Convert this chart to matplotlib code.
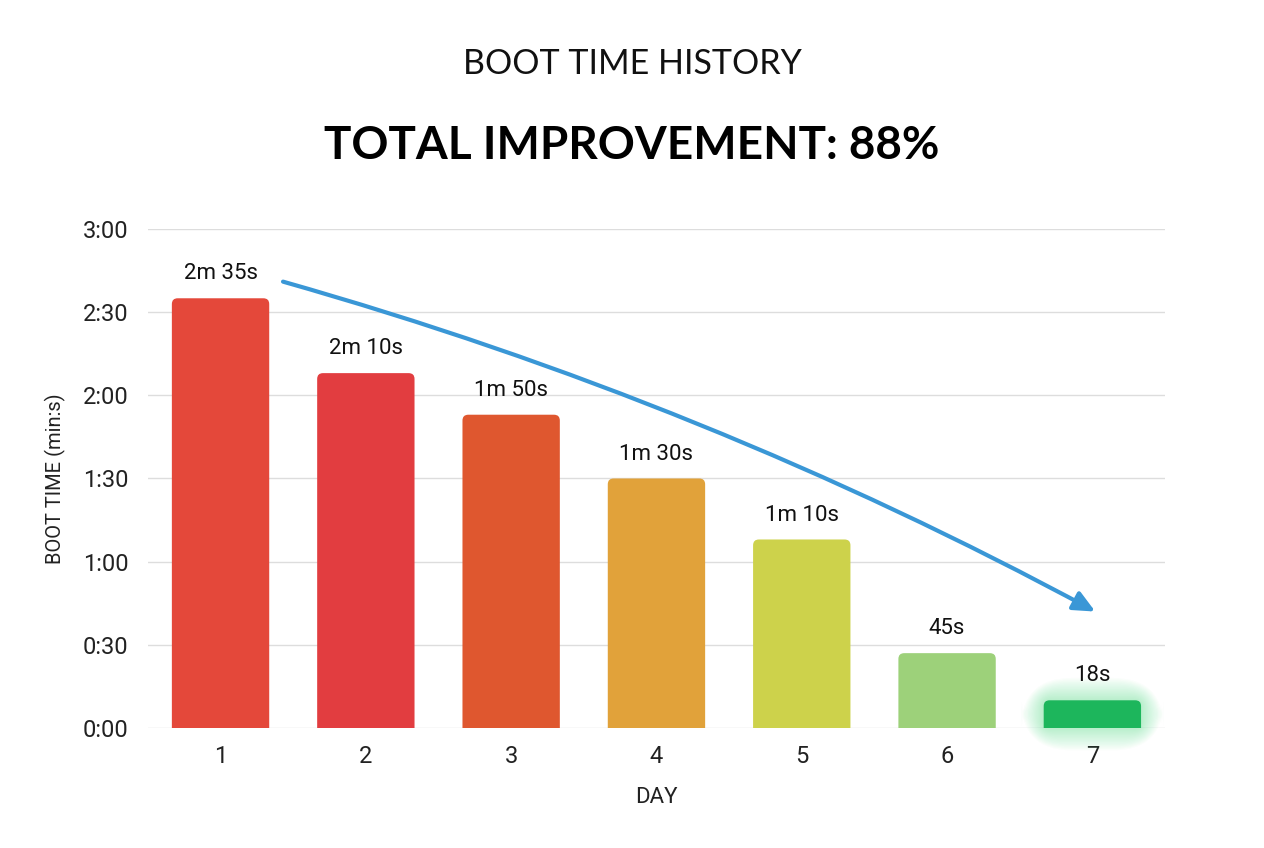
import matplotlib
matplotlib.use('Agg')
import matplotlib.pyplot as plt
from matplotlib.patches import FancyBboxPatch

# data (heights in seconds, labels as printed)
days = [1, 2, 3, 4, 5, 6, 7]
boot_secs = [155, 128, 113, 90, 68, 27, 10]
bar_labels = ['2m 35s', '2m 10s', '1m 50s', '1m 30s', '1m 10s', '45s', '18s']
bar_colors = ['#E4483A', '#E23D40', '#DF572F', '#E1A23A', '#CDD24B', '#9DD17A', '#1DB65C']
ytick_secs = [0, 30, 60, 90, 120, 150, 180]
ytick_labels = ['0:00', '0:30', '1:00', '1:30', '2:00', '2:30', '3:00']
arrow_start = (1.43, 161)
arrow_end = (7.02, 42)

plt.rcParams['font.family'] = ['Roboto', 'DejaVu Sans']

fig = plt.figure(figsize=(12.64, 8.48), dpi=100)
ax = fig.add_axes([0.117, 0.1415, 0.8047, 0.5885])

ax.set_xlim(0.5, 7.5)
ax.set_ylim(0, 180)

# px per unit, used to keep corner rounding round
px_x = 0.8047 * 1264 / 7.0
px_y = 0.5885 * 848 / 180.0
aspect = px_x / px_y

width = 0.67
for i, (d, h) in enumerate(zip(days, boot_secs)):
    if i == len(days) - 1:
        # soft glow round the last bar
        for k in range(16, 0, -1):
            gx = k * 1.4 / px_x
            gy = k * 1.4 / px_y
            glow = FancyBboxPatch((d - width / 2 - gx, -gy), width + 2 * gx, h + 2 * gy,
                                  boxstyle='round,pad=0,rounding_size=%f' % (2 * gx + 0.04),
                                  mutation_aspect=aspect, linewidth=0,
                                  facecolor='#3DDC7A', alpha=0.025, zorder=1, clip_on=False)
            ax.add_patch(glow)
    box = FancyBboxPatch((d - width / 2, -10), width, h + 10,
                         boxstyle='round,pad=0,rounding_size=0.04',
                         mutation_aspect=aspect, linewidth=0,
                         facecolor=bar_colors[i], zorder=2)
    ax.add_patch(box)
    ax.text(d, h + 5, bar_labels[i], ha='center', va='bottom', fontsize=16, color='#111111', zorder=4)

ax.set_yticks(ytick_secs)
ax.set_yticklabels(ytick_labels)
ax.set_xticks(days)
ax.tick_params(axis='both', length=0, labelsize=17, colors='#222222')
ax.tick_params(axis='y', pad=14)
ax.tick_params(axis='x', pad=12)
ax.grid(axis='y', color='#DDDDDD', linewidth=1)
ax.set_axisbelow(True)
for s in ax.spines.values():
    s.set_visible(False)

ax.set_xlabel('DAY', fontsize=16, labelpad=14, color='#222222')
ax.set_ylabel('BOOT TIME (min:s)', fontsize=14.5, labelpad=12, color='#222222')

ax.annotate('', xy=arrow_end, xytext=arrow_start,
            arrowprops=dict(arrowstyle='-|>,head_length=1.3,head_width=0.6', color='#3A97D6',
                            lw=3, connectionstyle='arc3,rad=-0.055', shrinkA=0, shrinkB=0),
            zorder=5)

fig.text(0.5, 0.924, 'BOOT TIME HISTORY', ha='center', va='center', fontsize=24.5,
         family=['Lato', 'DejaVu Sans'], color='#111111')
fig.text(0.5, 0.828, 'TOTAL IMPROVEMENT: 88%', ha='center', va='center', fontsize=33,
         fontweight='bold', family=['Lato', 'DejaVu Sans'], color='#000000')

fig.savefig('out.png', dpi=100, facecolor='white')
